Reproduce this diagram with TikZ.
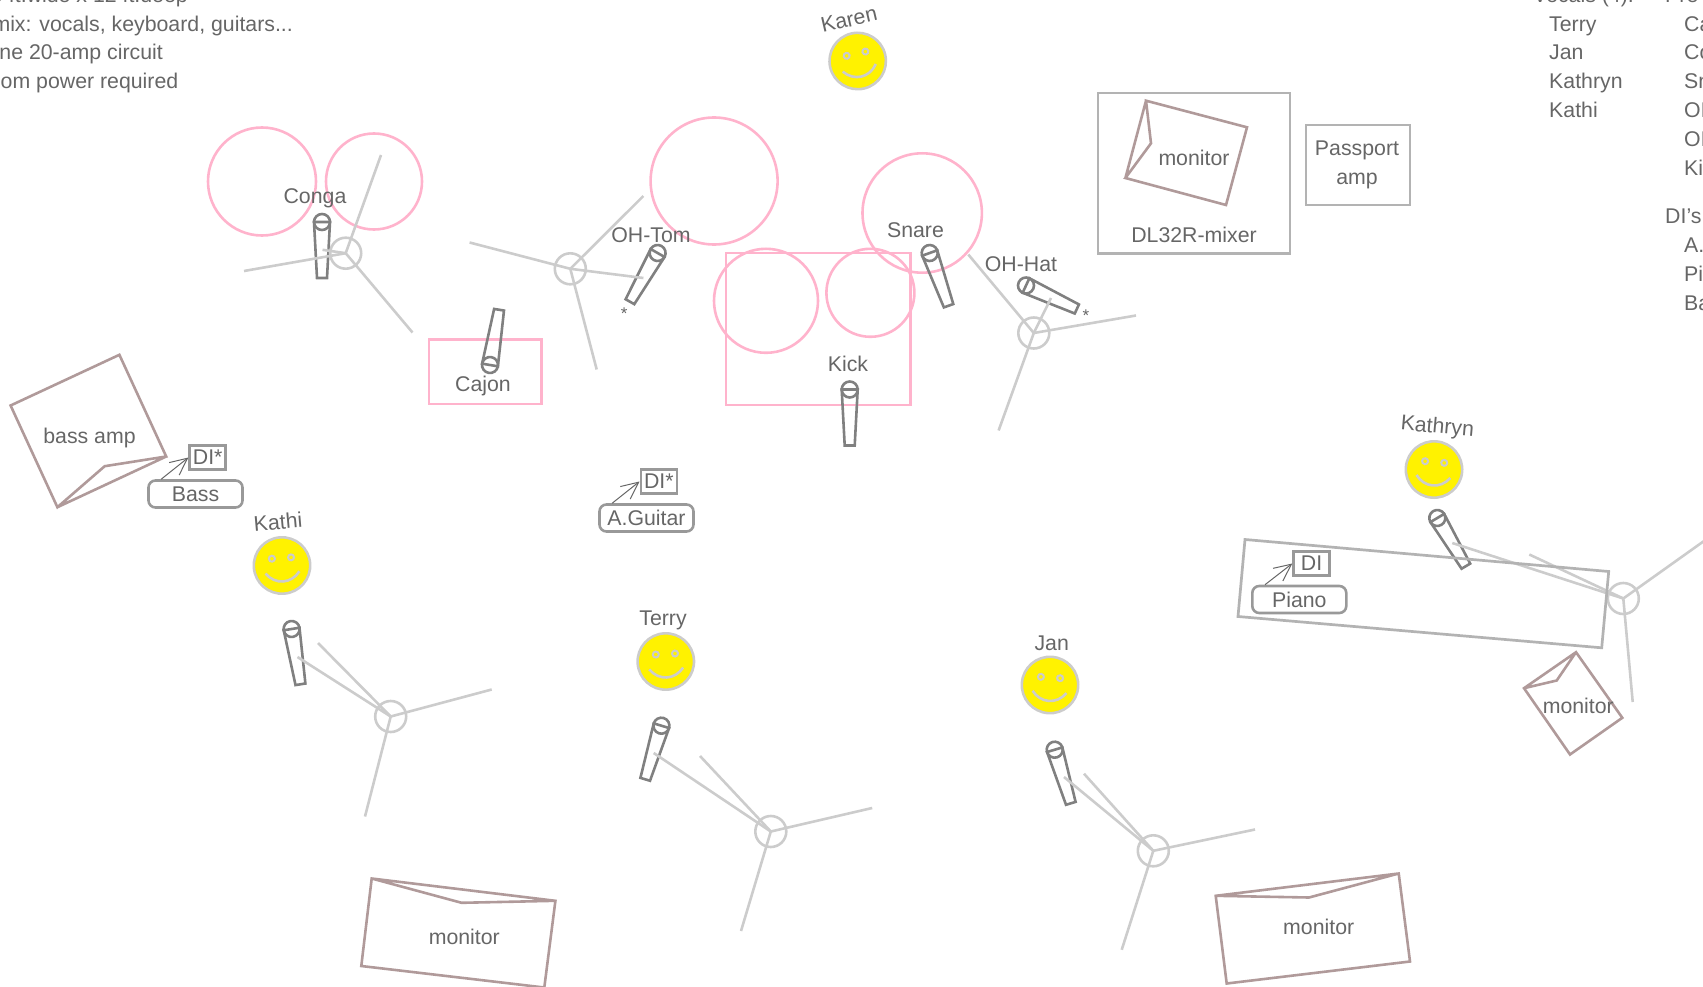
\documentclass[tikz,border=0pt]{standalone}
\usepackage{fontspec}
\setmainfont{Liberation Sans}
\usetikzlibrary{arrows.meta}
\definecolor{inkgray}{HTML}{666666}
\definecolor{standgray}{HTML}{CCCCCC}
\definecolor{micgray}{HTML}{808080}
\definecolor{boxgray}{HTML}{B3B3B3}
\definecolor{drumpink}{HTML}{FFB3CC}
\definecolor{monbrown}{HTML}{B09A9A}

\begin{document}
\begin{tikzpicture}[
  x=1pt,y=-1pt,
  tag/.style={text=inkgray,font=\fontsize{21.3}{29}\selectfont,inner sep=0pt,align=center},
  txt/.style={tag,anchor=base west},
  txtend/.style={tag,anchor=base east},
  drum/.style={draw=drumpink,line width=2.6pt},
  stand/.style={draw=standgray,line width=2.6pt},
  standbase/.style={stand,circle,minimum size=31pt,inner sep=0pt},
  monbox/.style={draw=monbrown,line width=2.6pt},
  gearbox/.style={draw=boxgray,line width=2.7pt},
  dibox/.style={draw=micgray!80,line width=2.6pt,inner sep=0pt,text=inkgray,
    font=\fontsize{21.3}{24}\selectfont,minimum width=#1},
  dibox/.default=36pt,
  source/.style={dibox=94pt,rounded corners=7pt,minimum height=27pt},
  patch/.style={draw=inkgray,line width=1pt,-{Straight Barb[length=17pt,width=16pt,line width=1pt]}},
  pics/mic/.style={code={
    \draw[micgray,line width=2.6pt] (0,0) circle[radius=8];
    \draw[micgray,line width=2.6pt] (-8,0) -- (8,0) -- (5,56) -- (-5,56) -- cycle;
  }},
  pics/face/.style={code={
    \draw[standgray,fill=yellow,line width=2.6pt] (0,0) circle[radius=28.2];
    \draw[standgray,line width=2pt] (-9.6,-7.5) circle[radius=3];
    \draw[standgray,line width=2pt] (9.6,-7.5) circle[radius=3];
    \draw[standgray,line width=2.6pt] (-17,7) .. controls (-8,19) and (8,19) .. (17,7);
  }}
]
  \useasboundingbox (0,0) rectangle (1703,987);
  \clip (0,0) rectangle (1703,987);

  \node[txtend] (roomsize) at (188,2.5) {0 ft.wide x 12 ft.deep};
  \node[txtend] (monmix) at (293,32) {mix: vocals, keyboard, guitars...};
  \node[txtend] (circuit) at (163,60) {ne 20-amp circuit};
  \node[txtend] (power) at (178.5,89) {om power required};

  \node[txt] (vocals) at (1533,2.5) {Vocals (4):};
  \node[txt] at (1549,32) {Terry};
  \node[txt] at (1549,60) {Jan};
  \node[txt] at (1549,89) {Kathryn};
  \node[txt] at (1549,118) {Kathi};
  \node[txt] (preamps) at (1665,2.5) {Pre};
  \node[txt] at (1684,32) {Cajon};
  \node[txt] at (1684,60) {Conga};
  \node[txt] at (1684,89) {Snare};
  \node[txt] at (1684,118) {OH-Tom};
  \node[txt] at (1684,147) {OH-Hat};
  \node[txt] at (1684,176) {Kick};
  \node[txt] (dilist) at (1665,223.5) {DI's};
  \node[txt] at (1684,252) {A.Guitar};
  \node[txt] at (1684,281) {Piano};
  \node[txt] at (1684,310) {Bass};

  \draw[drum] (262,181.5) circle[radius=54];
  \draw[drum] (374,181.5) circle[radius=48];
  \draw[drum] (714.1,181) circle[radius=63.5];
  \draw[drum] (922.2,213) circle[radius=59.7];
  \draw[drum] (766,300.8) circle[radius=52];
  \draw[drum] (870.4,292.8) circle[radius=44];
  \draw[drum] (726,253) rectangle (910.2,405);
  \draw[drum] (429,339.5) rectangle (541.2,404);

  \node[tag] (conga) at (315,198) {Conga};
  \node[tag] (cajon) at (483,386) {Cajon};
  \node[tag] (ohtom) at (651,235) {OH-Tom};
  \node[tag] (snare) at (915.5,230) {Snare};
  \node[tag] (ohhat) at (1021,264) {OH-Hat};
  \node[tag] (kick) at (848,364) {Kick};
  \node[text=inkgray,inner sep=0pt,font=\fontsize{17}{17}\selectfont] (startom) at (624.3,314) {*};
  \node[text=inkgray,inner sep=0pt,font=\fontsize{17}{17}\selectfont] (starhat) at (1086,316) {*};

  \pic (congamic) at (322,222) {mic};
  \pic (cajonmic) [rotate=170.7] at (490,365) {mic};
  \pic (ohtommic) [rotate=-29.6] at (657.6,253) {mic};
  \pic (snaremic) [rotate=19.7] at (929.7,253) {mic};
  \pic (ohhatmic) [rotate=65.2] at (1026,285.5) {mic};
  \pic (kickmic) at (849.7,389.5) {mic};
  \pic (kathimic) [rotate=9.1] at (291.6,629) {mic};
  \pic (terrymic) [rotate=-16.8] at (661.4,725.7) {mic};
  \pic (janmic) [rotate=16.7] at (1054.7,749.7) {mic};
  \pic (kathrynmic) [rotate=30.7] at (1437.3,518) {mic};

  \node[standbase] (congastand) at (345.7,253.2) {};
  \node[standbase] (ohtomstand) at (570.3,268.8) {};
  \node[standbase] (ohhatstand) at (1033.8,333) {};
  \node[standbase] (kathistand) at (390.7,716.5) {};
  \node[standbase] (terrystand) at (770.8,831.5) {};
  \node[standbase] (janstand) at (1153.3,850.8) {};
  \node[standbase] (kathrynstand) at (1623.3,598.5) {};
  \path[stand]
    (congastand.center) edge (381,155) edge (412.5,332.5) edge (244,271) edge (322.5,249.8)
    (ohtomstand.center) edge (469.6,242.5) edge (596.7,369.5) edge (643.4,196) edge (643.4,278)
    (ohhatstand.center) edge (968.3,254.5) edge (1136,315.5) edge (998.6,430.5) edge (1051,298)
    (kathistand.center) edge (318,643) edge (491.7,689.5) edge (365,816.5) edge (297.5,657)
    (terrystand.center) edge (700,756) edge (872.2,808) edge (741,931) edge (653.7,753)
    (janstand.center) edge (1084,773.7) edge (1255,829.5) edge (1121.7,949.8) edge (1064,777)
    (kathrynstand.center) edge (1529.3,554.5) edge (1730,522.5) edge (1632.7,702) edge (1452.3,543);

  \pic (karenface) [rotate=13] at (857.7,61) {face};
  \pic (kathiface) [rotate=4] at (282,565.5) {face};
  \pic (terryface) [rotate=3] at (665.8,661.5) {face};
  \pic (janface) [rotate=-4] at (1050,685) {face};
  \pic (kathrynface) [rotate=-5] at (1434,469.5) {face};
  \node[tag,rotate=13] (karen) at (849,19.5) {Karen};
  \node[tag,rotate=5] (kathi) at (278,522) {Kathi};
  \node[tag] (terry) at (663,620) {Terry};
  \node[tag] (jan) at (1051.7,643) {Jan};
  \node[tag,rotate=-5] (kathryn) at (1437.3,427.5) {Kathryn};

  \draw[gearbox] (1098,93) rectangle (1290,253.5);
  \draw[gearbox] (1306,125) rectangle (1410,205);
  \draw[gearbox] (1245,539.5) -- (1608.7,571.5) -- (1601.7,647.8) -- (1238,616.5) -- cycle;
  \node[tag] (mixer) at (1194,235) {DL32R-mixer};
  \node[tag] (passport) at (1357,150) {Passport};
  \node[tag] (passportamp) at (1357,181) {amp};

  \draw[monbox] (1146,100.7) -- (1247,127.3) -- (1226,205) -- (1125.4,178) -- (1151,143.3) -- cycle (1146,100.7) -- (1125.4,178);
  \draw[monbox] (119.4,354.8) -- (166.2,456.5) -- (104.7,466.2) -- (57.4,507.2) -- (10.6,405.5) -- cycle (166.2,456.5) -- (57.4,507.2);
  \draw[monbox] (371.7,878.5) -- (555.4,900.8) -- (544.3,987.5) -- (361.3,966) -- cycle (371.7,878.5) -- (461.6,902.8) -- (555.4,900.8);
  \draw[monbox] (1215.7,895.8) -- (1398.7,873.5) -- (1410,961.5) -- (1226.7,983.5) -- cycle (1215.7,895.8) -- (1309,897.5) -- (1398.7,873.5);
  \draw[monbox] (1576,652.2) -- (1622.3,717.8) -- (1570,754.5) -- (1524,688.2) -- cycle (1576,652.2) -- (1556.7,680.5) -- (1524,688.2);
  \node[tag] (monitorin) at (1194,157.5) {monitor};
  \node[tag] (bassamp) at (89.5,438) {bass amp};
  \node[tag] (monitorleft) at (464.3,937.3) {monitor};
  \node[tag] (monitorright) at (1318.7,927) {monitor};
  \node[tag] (monitorpiano) at (1578.3,706) {monitor};

  \node[source] (bass) at (195.5,494) {Bass};
  \node[dibox,minimum height=24pt] (bassdi) at (207.7,457.5) {DI*};
  \node[source] (guitar) at (646.5,518) {A.Guitar};
  \node[dibox,minimum height=24pt] (guitardi) at (658.8,481.5) {DI*};
  \node[source] (piano) at (1299.3,599.5) {Piano};
  \node[dibox,minimum height=24pt] (pianodi) at (1311.6,563.5) {DI};

  \draw[patch] ([xshift=14pt]bass.north west) -- (bassdi.west);
  \draw[patch] ([xshift=14pt]guitar.north west) -- (guitardi.west);
  \draw[patch] ([xshift=14pt]piano.north west) -- (pianodi.west);
\end{tikzpicture}
\end{document}
